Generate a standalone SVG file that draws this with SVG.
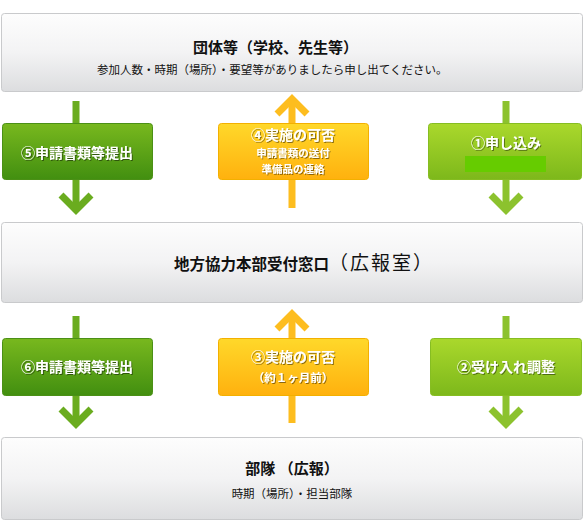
<svg xmlns="http://www.w3.org/2000/svg" width="584" height="529" viewBox="0 0 584 529">
<defs>
<linearGradient id="gGray" x1="0" y1="0" x2="0" y2="1">
<stop offset="0" stop-color="#fdfdfd"/><stop offset="0.5" stop-color="#f3f3f4"/><stop offset="1" stop-color="#dcdddf"/>
</linearGradient>
<linearGradient id="gDark" x1="0" y1="0" x2="0" y2="1">
<stop offset="0" stop-color="#78b81e"/><stop offset="1" stop-color="#428f10"/>
</linearGradient>
<linearGradient id="gLime" x1="0" y1="0" x2="0" y2="1">
<stop offset="0" stop-color="#aad82c"/><stop offset="1" stop-color="#7db81b"/>
</linearGradient>
<linearGradient id="gYel" x1="0" y1="0" x2="0" y2="1">
<stop offset="0" stop-color="#ffd82a"/><stop offset="1" stop-color="#ffb10e"/>
</linearGradient>
<filter id="ts" x="-10%" y="-30%" width="120%" height="160%">
<feDropShadow dx="1" dy="1" stdDeviation="0.6" flood-color="#000" flood-opacity="0.45"/>
</filter>
</defs>
<style>
.gray{fill:url(#gGray);stroke:#c9cacc;stroke-width:1}
.dark{fill:url(#gDark);stroke:#4b9016;stroke-width:1}
.lime{fill:url(#gLime);stroke:#86bd22;stroke-width:1}
.yel{fill:url(#gYel);stroke:#f3b000;stroke-width:1}
.t{font-family:"Noto Sans CJK JP","Noto Sans CJK SC",sans-serif;fill:#111}
.h{font-size:15px;font-weight:bold}
.s{font-size:11.5px}
.w{font-family:"Noto Sans CJK JP","Noto Sans CJK SC",sans-serif;fill:#fff;font-weight:bold;filter:url(#ts)}
.a{fill:none;stroke-width:7;stroke-linejoin:miter}
.ad{stroke:#6aac1f}
.al{stroke:#8cc22e}
.ay{stroke:#fdbd1f}
</style>

<g id="connectors">
<line class="a ad" x1="76" y1="101" x2="76" y2="210"/>
<polyline class="a ad" points="61,195 76,210 91,195"/>
<line class="a ay" x1="292" y1="99" x2="292" y2="208"/>
<polyline class="a ay" points="277,114 292,99 307,114"/>
<line class="a al" x1="506" y1="101" x2="506" y2="210"/>
<polyline class="a al" points="491,195 506,210 521,195"/>
<line class="a ad" x1="76" y1="316" x2="76" y2="424"/>
<polyline class="a ad" points="61,409 76,424 91,409"/>
<line class="a ay" x1="292" y1="314" x2="292" y2="423"/>
<polyline class="a ay" points="277,329 292,314 307,329"/>
<line class="a al" x1="506" y1="316" x2="506" y2="424"/>
<polyline class="a al" points="491,409 506,424 521,409"/>
</g>

<g id="node-dantai">
<rect class="gray" x="1.5" y="13.5" width="581" height="78" rx="3"/>
<text class="t h" x="193" y="53">団体等（学校、先生等）</text>
<text class="t s" x="97" y="74">参加人数・時期（場所）・要望等がありましたら申し出てください。</text>
</g>

<g id="node-5">
<rect class="dark" x="2.5" y="123.5" width="150" height="56" rx="3"/>
<text class="w" x="77" y="158" font-size="14" text-anchor="middle">⑤申請書類等提出</text>
</g>

<g id="node-4">
<rect class="yel" x="218.5" y="123.5" width="150" height="56" rx="3"/>
<text class="w" x="293" y="140" font-size="14" text-anchor="middle">④実施の可否</text>
<text class="w" x="293" y="157" font-size="10.5" text-anchor="middle">申請書類の送付</text>
<text class="w" x="293" y="172.5" font-size="10.5" text-anchor="middle">準備品の連絡</text>
</g>

<g id="node-1">
<rect class="lime" x="428.5" y="123.5" width="153" height="56" rx="3"/>
<text class="w" x="506" y="148" font-size="14" text-anchor="middle">①申し込み</text>
<rect x="465" y="156" width="81" height="16" fill="#66cc00"/>
</g>

<g id="node-chihou">
<rect class="gray" x="1.5" y="222.5" width="581" height="80" rx="3"/>
<text class="t" x="174" y="270"><tspan font-size="15.5" font-weight="bold">地方協力本部受付窓口</tspan><tspan font-size="19" letter-spacing="2">（広報室）</tspan></text>
</g>

<g id="node-6">
<rect class="dark" x="2.5" y="338.5" width="150" height="57" rx="3"/>
<text class="w" x="77" y="372" font-size="14" text-anchor="middle">⑥申請書類等提出</text>
</g>

<g id="node-3">
<rect class="yel" x="218.5" y="338.5" width="150" height="57" rx="3"/>
<text class="w" x="293" y="362" font-size="14" text-anchor="middle">③実施の可否</text>
<text class="w" x="293" y="382" font-size="11.5" text-anchor="middle">（約１ヶ月前）</text>
</g>

<g id="node-2">
<rect class="lime" x="430.5" y="338.5" width="151" height="57" rx="3"/>
<text class="w" x="506" y="372" font-size="14" text-anchor="middle">②受け入れ調整</text>
</g>

<g id="node-butai">
<rect class="gray" x="1.5" y="437.5" width="581" height="82" rx="3"/>
<text class="t h" x="292" y="474" text-anchor="middle">部隊 （広報）</text>
<text class="t s" x="292" y="498" text-anchor="middle">時期（場所）・担当部隊</text>
</g>
</svg>
